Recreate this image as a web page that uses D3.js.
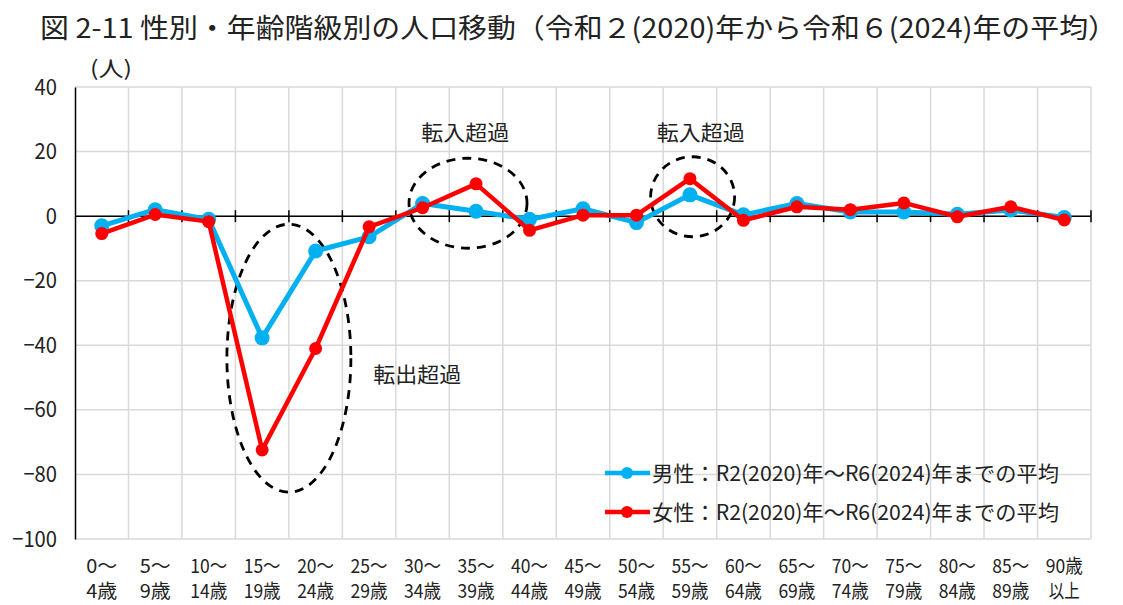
<!DOCTYPE html>
<html>
<head>
<meta charset="utf-8">
<script src="https://cdn.jsdelivr.net/npm/d3@7"></script>
<style>
  body { margin: 0; background: #fff; }
  text { font-family: "Noto Sans CJK JP", "Noto Sans", sans-serif; fill: #222; }
</style>
</head>
<body>
<div id="chartContainer"></div>
<script>
// age groups, two lines each
const ageTop = ["0～","5～","10～","15～","20～","25～","30～","35～","40～","45～","50～","55～","60～","65～","70～","75～","80～","85～","90歳"];
const ageBottom = ["4歳","9歳","14歳","19歳","24歳","29歳","34歳","39歳","44歳","49歳","54歳","59歳","64歳","69歳","74歳","79歳","84歳","89歳","以上"];

// average net migration (persons), R2(2020) - R6(2024)
const male = [-3, 2, -1, -37.7, -10.8, -6.4, 3.9, 1.5, -1, 2.3, -2, 6.6, 0.4, 3.9, 1.3, 1.3, 0.6, 1.9, -0.4];
const female = [-5.4, 0.5, -1.7, -72.4, -41, -3.3, 2.6, 10, -4.4, 0.3, 0.3, 11.6, -1.3, 2.9, 2, 4.1, -0.2, 2.9, -1.2];

const yTicks = [40, 20, 0, -20, -40, -60, -80, -100];

const width = 1123, height = 605;
const svg = d3.select("#chartContainer").append("svg")
  .attr("width", width).attr("height", height);

const xScale = d3.scaleBand().domain(d3.range(ageTop.length)).range([75, 1091]).padding(0);
const yScale = d3.scaleLinear().domain([-100, 40]).range([539, 87]);
const cx = (i) => xScale(i) + xScale.bandwidth() / 2;

// title
svg.append("text")
  .attr("x", 40).attr("y", 38)
  .attr("font-size", 27)
  .attr("textLength", 1077).attr("lengthAdjust", "spacingAndGlyphs")
  .text("図 2-11 性別・年齢階級別の人口移動（令和２(2020)年から令和６(2024)年の平均）");

svg.append("text")
  .attr("x", 90).attr("y", 76)
  .attr("font-size", 21)
  .attr("textLength", 42).attr("lengthAdjust", "spacingAndGlyphs")
  .text("(人)");

// gridlines
svg.append("g").selectAll("line")
  .data(yTicks)
  .join("line")
  .attr("x1", 75).attr("x2", 1091)
  .attr("y1", (d) => yScale(d)).attr("y2", (d) => yScale(d))
  .attr("stroke", "#d9d9d9").attr("stroke-width", 1.5);

svg.append("g").selectAll("line")
  .data(d3.range(1, ageTop.length + 1))
  .join("line")
  .attr("x1", (d) => xScale(d - 1) + xScale.bandwidth())
  .attr("x2", (d) => xScale(d - 1) + xScale.bandwidth())
  .attr("y1", 87).attr("y2", 539)
  .attr("stroke", "#d9d9d9").attr("stroke-width", 1.5);

// y axis
const fmt = (d) => d < 0 ? "−" + Math.abs(d) : String(d);
const yAxis = d3.axisLeft(yScale).tickValues(yTicks).tickSize(0).tickPadding(18).tickFormat(fmt);
const gy = svg.append("g").attr("transform", "translate(75,0)").call(yAxis);
gy.select(".domain").attr("stroke", "#000").attr("stroke-width", 1.5);
gy.selectAll(".tick text")
  .attr("font-size", 22)
  .attr("font-family", "'Noto Sans CJK JP', sans-serif")
  .style("fill", "#222")
  .attr("textLength", (d) => fmt(d).length * 11.2)
  .attr("lengthAdjust", "spacingAndGlyphs");

// zero line with cross ticks
svg.append("line")
  .attr("x1", 75).attr("x2", 1091)
  .attr("y1", yScale(0)).attr("y2", yScale(0))
  .attr("stroke", "#000").attr("stroke-width", 1.5);
svg.append("g").selectAll("line")
  .data(d3.range(1, ageTop.length + 1))
  .join("line")
  .attr("x1", (d) => xScale(d - 1) + xScale.bandwidth())
  .attr("x2", (d) => xScale(d - 1) + xScale.bandwidth())
  .attr("y1", yScale(0) - 6).attr("y2", yScale(0) + 6)
  .attr("stroke", "#000").attr("stroke-width", 1.5);

// x labels
const xl = svg.append("g");
xl.selectAll(".top").data(ageTop).join("text")
  .attr("class", "top")
  .attr("x", (d, i) => cx(i)).attr("y", 573)
  .attr("text-anchor", "middle").attr("font-size", 19)
  .attr("textLength", (d) => d.length === 2 ? 31 : 37).attr("lengthAdjust", "spacingAndGlyphs")
  .text((d) => d);
xl.selectAll(".bot").data(ageBottom).join("text")
  .attr("class", "bot")
  .attr("x", (d, i) => cx(i)).attr("y", 598)
  .attr("text-anchor", "middle").attr("font-size", 19)
  .attr("textLength", (d) => d.length === 2 ? 31 : 37).attr("lengthAdjust", "spacingAndGlyphs")
  .text((d) => d);

// dashed ellipses (annotation)
const ellipses = [
  { x: 4, v: -44, rx: 62, ry: 134 },
  { x: 7.35, v: 4, rx: 59, ry: 45 },
  { x: 11.55, v: 6, rx: 42, ry: 40 }
];
svg.append("g").selectAll("ellipse")
  .data(ellipses)
  .join("ellipse")
  .attr("cx", (d) => 75 + d.x * xScale.bandwidth())
  .attr("cy", (d) => yScale(d.v))
  .attr("rx", (d) => d.rx).attr("ry", (d) => d.ry)
  .attr("fill", "none").attr("stroke", "#000")
  .attr("stroke-width", 2.8).attr("stroke-dasharray", "9,7");

const notes = [
  { text: "転入超過", x: 7.3, y: 140 },
  { text: "転入超過", x: 11.7, y: 140 },
  { text: "転出超過", x: 6.4, y: 382 }
];
svg.append("g").selectAll("text")
  .data(notes)
  .join("text")
  .attr("x", (d) => 75 + d.x * xScale.bandwidth())
  .attr("y", (d) => d.y)
  .attr("text-anchor", "middle").attr("font-size", 21)
  .attr("textLength", 88).attr("lengthAdjust", "spacingAndGlyphs")
  .text((d) => d.text);

// lines
const line = d3.line().x((d, i) => cx(i)).y((d) => yScale(d));
const series = [
  { name: "男性：R2(2020)年～R6(2024)年までの平均", values: male, color: "#00b0f0", w: 5, r: 7.5 },
  { name: "女性：R2(2020)年～R6(2024)年までの平均", values: female, color: "#ff0000", w: 4.5, r: 6.5 }
];
series.forEach((s) => {
  svg.append("path")
    .datum(s.values)
    .attr("d", line)
    .attr("fill", "none").attr("stroke", s.color)
    .attr("stroke-width", s.w).attr("stroke-linejoin", "round");
  svg.append("g").selectAll("circle")
    .data(s.values)
    .join("circle")
    .attr("cx", (d, i) => cx(i)).attr("cy", (d) => yScale(d))
    .attr("r", s.r).attr("fill", s.color);
});

// legend
const legend = svg.append("g").selectAll("g")
  .data(series)
  .join("g")
  .attr("transform", (d, i) => `translate(605,${473 + i * 39})`);
legend.append("line")
  .attr("x1", 0).attr("x2", 45)
  .attr("stroke", (d) => d.color).attr("stroke-width", 4.5);
legend.append("circle")
  .attr("cx", 22).attr("r", 6).attr("fill", (d) => d.color);
legend.append("text")
  .attr("x", 47).attr("y", 8)
  .attr("font-size", 21)
  .attr("textLength", 407).attr("lengthAdjust", "spacingAndGlyphs")
  .text((d) => d.name);
</script>
</body>
</html>
